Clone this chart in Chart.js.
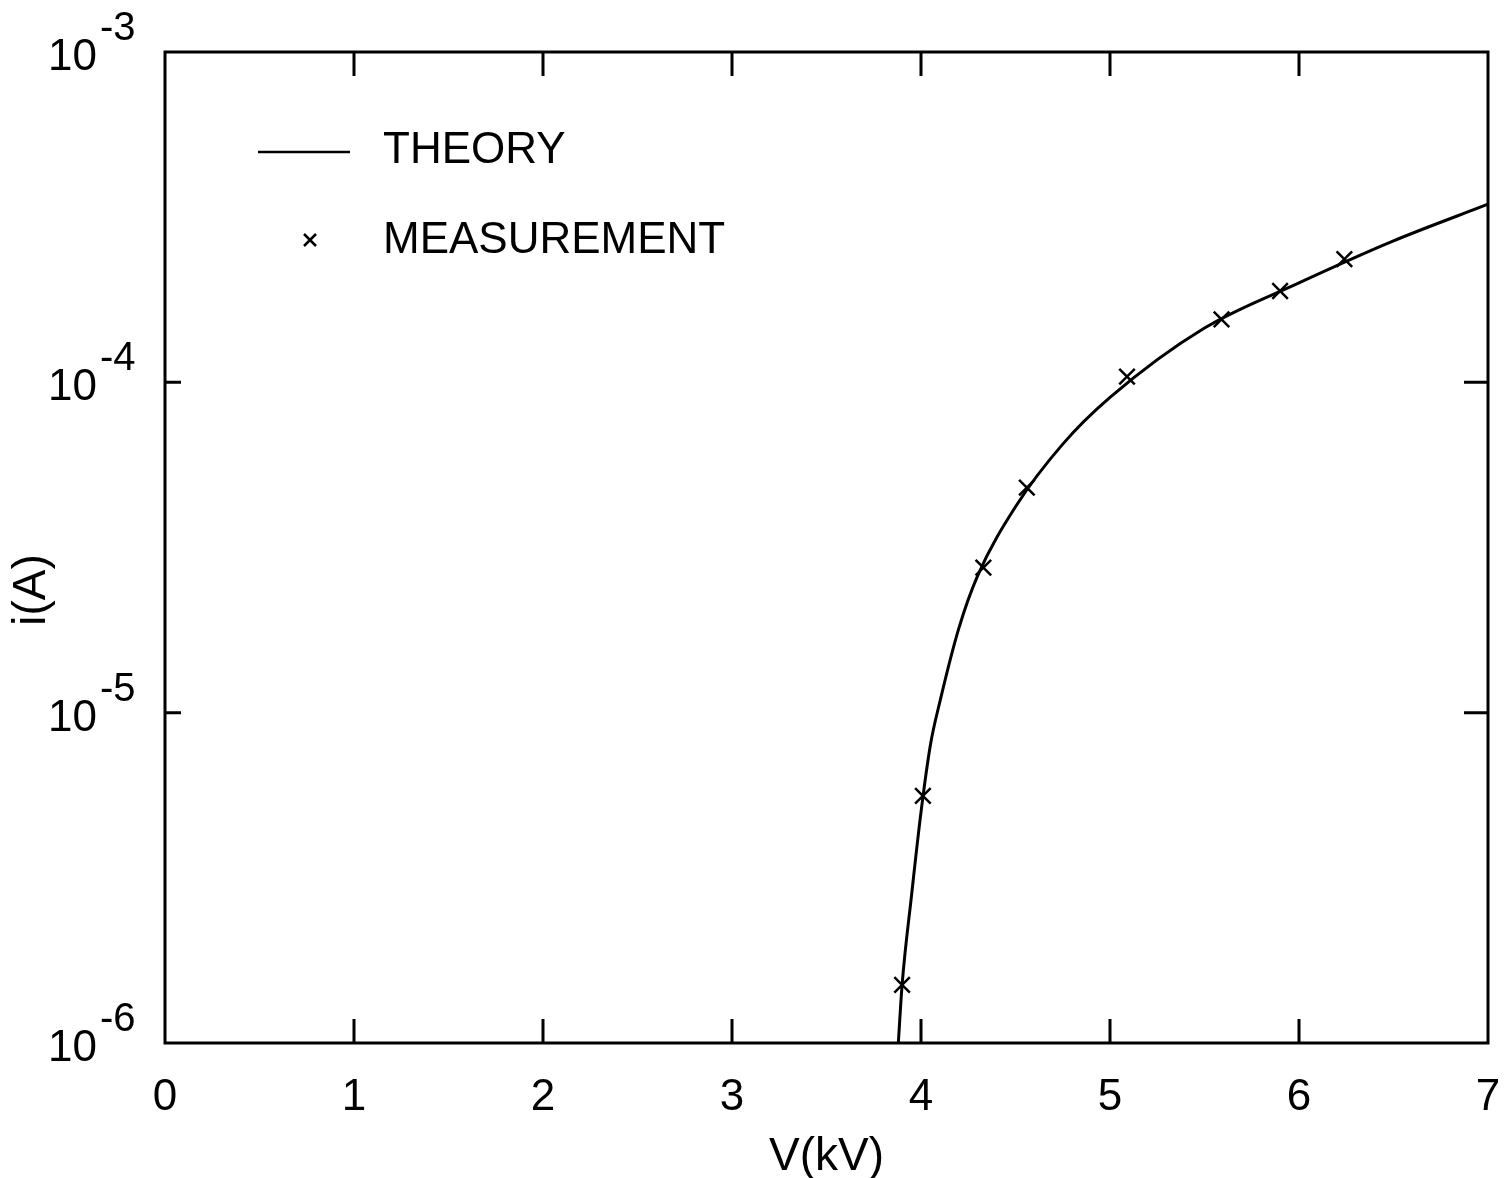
<!DOCTYPE html>
<html>
<head>
<meta charset="utf-8">
<script src="https://cdn.jsdelivr.net/npm/chart.js@4.4.1/dist/chart.umd.min.js"></script>
<style>
  html, body { margin: 0; padding: 0; background: #fff; }
  #wrap { width: 1506px; height: 1178px; }
</style>
</head>
<body>
<div id="wrap"><canvas id="chart" width="1506" height="1178"></canvas></div>
<script>
// theory curve
const theoryV = [3.88, 3.90, 3.95, 4.00, 4.05, 4.10, 4.20, 4.30, 4.50, 4.75, 5.00, 5.50, 6.00, 6.50, 7.00];
const theoryI = [1.0e-6, 1.5e-6, 2.8e-6, 5.0e-6, 8.0e-6, 1.08e-5, 1.8e-5, 2.6e-5, 4.2e-5, 6.5e-5, 9.0e-5, 1.46e-4, 2.0e-4, 2.68e-4, 3.46e-4];

// measured points
const measV = [3.90, 4.01, 4.33, 4.56, 5.09, 5.59, 5.90, 6.24];
const measI = [1.5e-6, 5.6e-6, 2.75e-5, 4.8e-5, 1.04e-4, 1.55e-4, 1.89e-4, 2.36e-4];

const xTicks = [0, 1, 2, 3, 4, 5, 6, 7];
const yTicks = [1e-6, 1e-5, 1e-4, 1e-3];
const xTitle = 'V(kV)';
const yTitle = 'i(A)';
const seriesNames = ['THEORY', 'MEASUREMENT'];

const FONT = '"Liberation Sans", Arial, sans-serif';
const INK = '#000';

const framePlugin = {
  id: 'frame',
  afterDraw(chart) {
    const { ctx, chartArea: a, scales } = chart;
    const xs = scales.x, ys = scales.y;
    const tl = 24;
    ctx.save();
    ctx.strokeStyle = INK;
    ctx.fillStyle = INK;
    ctx.lineWidth = 3;
    ctx.strokeRect(a.left, a.top, a.right - a.left, a.bottom - a.top);

    // inward ticks
    ctx.beginPath();
    xs.ticks.forEach(t => {
      const px = xs.getPixelForValue(t.value);
      if (px <= a.left + 2 || px >= a.right - 2) return;
      ctx.moveTo(px, a.bottom); ctx.lineTo(px, a.bottom - tl);
      ctx.moveTo(px, a.top); ctx.lineTo(px, a.top + tl);
    });
    ys.ticks.forEach(t => {
      const py = ys.getPixelForValue(t.value);
      if (py <= a.top + 2 || py >= a.bottom - 2) return;
      ctx.moveTo(a.left, py); ctx.lineTo(a.left + 16, py);
      ctx.moveTo(a.right, py); ctx.lineTo(a.right - tl, py);
    });
    ctx.stroke();

    // y tick labels as 10 with exponent
    ys.ticks.forEach(t => {
      const py = ys.getPixelForValue(t.value);
      const e = Math.round(Math.log10(t.value));
      ctx.font = '44px ' + FONT;
      ctx.textAlign = 'right';
      ctx.textBaseline = 'alphabetic';
      ctx.fillText('10', 97, py + 18);
      ctx.font = '40px ' + FONT;
      ctx.textAlign = 'left';
      ctx.fillText((e < 0 ? '-' : '') + Math.abs(e), 100, py - 12);
    });

    // axis titles
    ctx.font = '46px ' + FONT;
    ctx.textAlign = 'center';
    ctx.textBaseline = 'middle';
    ctx.fillText(xTitle, (a.left + a.right) / 2, 1157);
    ctx.save();
    ctx.translate(32, 590);
    ctx.rotate(-Math.PI / 2);
    ctx.fillText(yTitle, 0, 0);
    ctx.restore();

    // legend
    ctx.lineWidth = 2.5;
    ctx.beginPath();
    ctx.moveTo(258, 152); ctx.lineTo(350, 152);
    ctx.stroke();
    ctx.beginPath();
    ctx.moveTo(304, 234); ctx.lineTo(316, 246);
    ctx.moveTo(316, 234); ctx.lineTo(304, 246);
    ctx.stroke();
    ctx.font = '44px ' + FONT;
    ctx.textAlign = 'left';
    ctx.textBaseline = 'middle';
    ctx.fillText(seriesNames[0], 383, 151);
    ctx.fillText(seriesNames[1], 383, 241);
    ctx.restore();
  },
};

new Chart(document.getElementById('chart'), {
  type: 'scatter',
  data: {
    datasets: [
      {
        label: seriesNames[0],
        data: theoryV.map((v, i) => ({ x: v, y: theoryI[i] })),
        showLine: true,
        borderColor: INK,
        borderWidth: 3,
        pointRadius: 0,
        cubicInterpolationMode: 'monotone',
      },
      {
        label: seriesNames[1],
        data: measV.map((v, i) => ({ x: v, y: measI[i] })),
        pointStyle: 'crossRot',
        pointRadius: 11,
        borderColor: INK,
        borderWidth: 2.5,
        backgroundColor: INK,
      },
    ],
  },
  options: {
    responsive: false,
    animation: false,
    layout: { padding: { top: 52, right: 18, left: 0, bottom: 0 } },
    plugins: { legend: { display: false }, tooltip: { enabled: false } },
    scales: {
      x: {
        type: 'linear',
        min: 0,
        max: 7,
        afterBuildTicks(scale) { scale.ticks = xTicks.map(v => ({ value: v })); },
        afterFit(scale) {
          scale.height = 135;
          scale.paddingLeft = 0;
          scale.paddingRight = 0;
        },
        grid: { display: false, drawTicks: false },
        border: { display: false },
        ticks: { color: INK, padding: 28, font: { family: FONT, size: 44 } },
      },
      y: {
        type: 'logarithmic',
        min: 1e-6,
        max: 1e-3,
        afterBuildTicks(scale) { scale.ticks = yTicks.map(v => ({ value: v })); },
        afterFit(scale) { scale.width = 165; },
        grid: { display: false, drawTicks: false },
        border: { display: false },
        ticks: { display: false },
      },
    },
  },
  plugins: [framePlugin],
});
</script>
</body>
</html>
